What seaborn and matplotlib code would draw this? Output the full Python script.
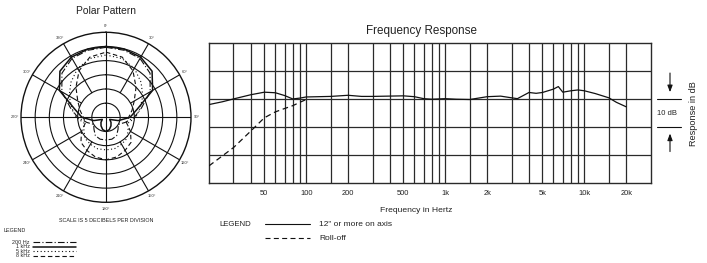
import numpy as np
import pandas as pd
import seaborn as sns
import matplotlib
matplotlib.use("Agg")
from matplotlib import pyplot as plt
from matplotlib.lines import Line2D
from matplotlib.ticker import NullFormatter
import matplotlib.transforms as mtransforms

sns.set_style("white")
plt.rcParams['font.family'] = ['Liberation Sans', 'DejaVu Sans']

# frequency response (Hz, dB)
freq_axis = [20, 25, 30, 40, 50, 60, 70, 80, 90, 100, 150, 200, 250, 300, 500, 600, 700, 800,
             1000, 1200, 1500, 2000, 2500, 3000, 3300, 4000, 4500, 5000, 6000, 6500, 7000,
             8000, 9000, 10000, 12000, 15000, 17000, 20000]
resp_axis = [-2.0, -1.0, 0.0, 1.5, 2.4, 2.2, 1.2, 0.0, 0.3, 0.7, 0.9, 1.3, 0.9, 0.9, 1.1, 0.8, 0.1, -0.1,
             0.1, -0.1, -0.2, 0.8, 1.0, 0.4, 0.1, 2.3, 2.0, 2.3, 3.5, 4.4, 2.4,
             2.9, 3.2, 2.9, 1.9, 0.4, -1.2, -2.8]
freq_roll = [20, 30, 40, 50, 60, 70, 80, 90, 100]
resp_roll = [-23.8, -17.3, -11.4, -6.7, -4.6, -3.4, -2.4, -1.2, -0.2]

tick_freqs = [50, 100, 200, 500, 1000, 2000, 5000, 10000, 20000]
tick_labels = ["50", "100", "200", "500", "1k", "2k", "5k", "10k", "20k"]
grid_freqs = [30, 40, 50, 60, 70, 80, 90, 100, 150, 200, 300, 400, 500, 600, 700, 800, 900,
              1000, 1500, 2000, 3000, 4000, 5000, 6000, 7000, 8000, 9000, 10000, 15000, 20000]

# polar pattern, dB relative to outer ring, every 15 degrees
angles = [0, 15, 30, 45, 60, 75, 90, 105, 120, 135, 150, 165, 180,
          195, 210, 225, 240, 255, 270, 285, 300, 315, 330, 345, 360]
p200 = [-5.3, -5.5, -6, -8, -12, -17, -20, -23, -25, -24, -22.5, -22, -22,
        -22, -22.5, -24, -25, -23, -20, -17, -12, -8, -6, -5.5, -5.3]
p1k = [-5.0, -5.1, -5.5, -7.0, -11.0, -18.5, -21.5, -25.5, -28.5, -27.5, -26.5, -25.5, -25.0,
       -25.5, -26.5, -27.5, -28.5, -25.5, -21.5, -18.5, -11.0, -7.0, -5.5, -5.1, -5.0]
p5k = [-8, -8.5, -10, -12.5, -15, -17.5, -19.5, -22, -21, -19.5, -19, -18.5, -18.5,
       -18.5, -19, -19.5, -21, -22, -19.5, -17.5, -15, -12.5, -10, -8.5, -8]
p8k = [-7, -8, -11, -15, -18.5, -20.5, -22, -22.5, -20, -17.5, -16.5, -15.5, -15,
       -15.5, -16.5, -17.5, -20, -22.5, -22, -20.5, -18.5, -15, -11, -8, -7]

polar_names = ["200 Hz", "1 kHz", "5 kHz", "8 kHz"]
polar_styles = [(0, (6, 2, 1, 2)), '-', (0, (1, 2.2)), (0, (4, 2.5))]
polar_widths = [0.8, 1.1, 0.8, 0.8]

W, H = 707, 263
fig = plt.figure(figsize=(W / 100, H / 100), dpi=100)

def fx(px):
    return px / W

def fy(py):
    return 1 - py / H

ink = '#111111'
gridc = '#2a2a2a'
txtc = '#222222'

# ---------------- frequency response ----------------
ax = fig.add_axes([fx(209), fy(183.3), fx(650.7) - fx(209), fy(42.7) - fy(183.3)])
df_axis = pd.DataFrame({"freq": freq_axis, "db": resp_axis})
df_roll = pd.DataFrame({"freq": freq_roll, "db": resp_roll})
sns.lineplot(data=df_axis, x="freq", y="db", ax=ax, color=ink, lw=0.9, zorder=5)
sns.lineplot(data=df_roll, x="freq", y="db", ax=ax, color=ink, lw=0.9,
             linestyle=(0, (4.5, 3)), zorder=5)
ax.set_xscale('log')
ax.set_xlim(20, 30000)
ax.set_ylim(-30, 20)
ax.set_xticks(tick_freqs)
ax.set_xticklabels(tick_labels)
ax.set_xticks(grid_freqs, minor=True)
ax.xaxis.set_minor_formatter(NullFormatter())
ax.set_yticks([-20, -10, 0, 10])
ax.set_yticklabels([])
ax.tick_params(axis='both', which='both', length=0)
ax.tick_params(axis='x', labelsize=5.4, pad=5, colors=txtc)
ax.grid(True, which='both', axis='x', color=gridc, lw=0.9)
ax.grid(True, which='major', axis='y', color=gridc, lw=0.9)
ax.set_xlabel("")
ax.set_ylabel("")
for s in ax.spines.values():
    s.set_visible(True)
    s.set_color(gridc)
    s.set_linewidth(1.0)

fig.text(fx(421), fy(31), "Frequency Response", ha='center', va='center', fontsize=8.4, color=txtc)
fig.text(fx(416), fy(210), "Frequency in Hertz", ha='center', va='center', fontsize=6.1, color=txtc)

# 10 dB marker on the right
tr = mtransforms.blended_transform_factory(ax.transAxes, ax.transData)
xa0, xa1 = (657 - 209) / 441.7, (681 - 209) / 441.7
xm = (670 - 209) / 441.7
for yv in [0, -10]:
    ax.plot([xa0, xa1], [yv, yv], transform=tr, color=ink, lw=0.8, clip_on=False)
ax.annotate("", xy=(xm, 1.4), xytext=(xm, 10.2), xycoords=tr, textcoords=tr,
            arrowprops=dict(arrowstyle='-|>,head_width=0.15,head_length=0.4', color=ink, lw=0.8))
ax.annotate("", xy=(xm, -11.3), xytext=(xm, -19.7), xycoords=tr, textcoords=tr,
            arrowprops=dict(arrowstyle='-|>,head_width=0.15,head_length=0.4', color=ink, lw=0.8))
fig.text(fx(667), fy(114), "10 dB", ha='center', va='center', fontsize=5.5, color=txtc)
fig.text(fx(693), fy(114), "Response in dB", ha='center', va='center', fontsize=6.6,
         rotation=90, color=txtc)

# legend under frequency response
fig.text(fx(219), fy(224), "LEGEND", ha='left', va='center', fontsize=5.6, color=txtc)
fig.add_artist(Line2D([fx(265), fx(310)], [fy(224), fy(224)], color=ink, lw=0.8))
fig.text(fx(319), fy(225), "12\" or more on axis", ha='left', va='center', fontsize=6.0, color=txtc)
fig.add_artist(Line2D([fx(265), fx(310)], [fy(238), fy(238)], color=ink, lw=0.8,
                      linestyle=(0, (4.5, 3))))
fig.text(fx(319), fy(238.5), "Roll-off", ha='left', va='center', fontsize=6.0, color=txtc)

# ---------------- polar pattern ----------------
R = 85
axp = fig.add_axes([fx(106 - R), fy(117.3 + R), fx(2 * R), (2 * R) / H], projection='polar')
axp.set_theta_zero_location('N')
axp.set_theta_direction(-1)
theta = np.deg2rad(angles)
for name, vals, ls, lw in zip(polar_names, [p200, p1k, p5k, p8k], polar_styles, polar_widths):
    sns.lineplot(x=theta, y=vals, ax=axp, color=ink, lw=lw, linestyle=ls, sort=False, zorder=5)
axp.set_ylim(-30, 0)
axp.set_rgrids([-25, -20, -15, -10, -5], labels=[])
axp.set_thetagrids(range(0, 360, 30), labels=[f"{a}°" for a in range(0, 360, 30)])
axp.tick_params(axis='x', labelsize=3, pad=-6, colors='#333333')
axp.xaxis.grid(False)
axp.yaxis.grid(True, color=ink, lw=0.8)
axp.spines['polar'].set_color(ink)
axp.spines['polar'].set_linewidth(1.0)
axp.set_xlabel("")
axp.set_ylabel("")
for a in range(0, 360, 30):
    t = np.deg2rad(a)
    r0 = -30 if a % 90 == 0 else -20
    axp.plot([t, t], [r0, 0], color=ink, lw=0.8, zorder=2)

fig.text(fx(106), fy(11), "Polar Pattern", ha='center', va='center', fontsize=7.4, color=txtc)
fig.text(fx(106), fy(221), "SCALE IS 5 DECIBELS PER DIVISION", ha='center', va='center',
         fontsize=3.9, color=txtc)
fig.text(fx(3), fy(231), "LEGEND", ha='left', va='center', fontsize=3.9, color=txtc)
for i, (name, ls, lw) in enumerate(zip(polar_names, polar_styles, polar_widths)):
    yy = 242.3 + i * 4.5
    fig.text(fx(30), fy(yy), name, ha='right', va='center', fontsize=3.9, color=txtc)
    fig.add_artist(Line2D([fx(33), fx(76)], [fy(yy), fy(yy)], color=ink, lw=lw, linestyle=ls))

fig.savefig("out.png", dpi=100)
